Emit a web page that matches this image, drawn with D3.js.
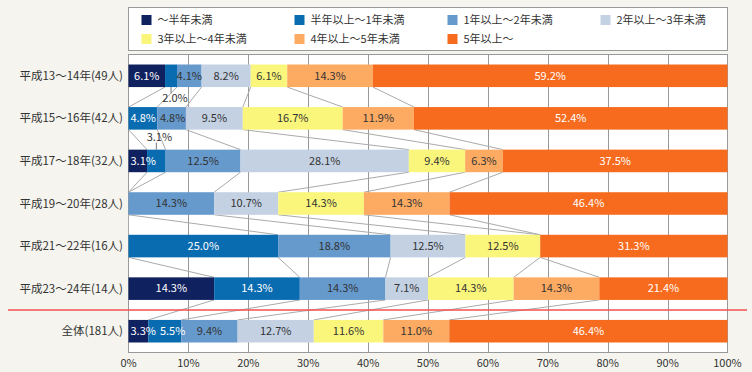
<!DOCTYPE html>
<html>
<head>
<meta charset="utf-8">
<script src="https://cdn.jsdelivr.net/npm/d3@7"></script>
<style>
  body { margin:0; background:#f5f4ee; }
  svg { display:block; font-family:"Noto Sans CJK JP", "Noto Sans", sans-serif; }
</style>
</head>
<body>
<div id="chart"></div>
<script>
// 勤続年数の分布（帯グラフ）
const rows = ['平成13～14年(49人)','平成15～16年(42人)','平成17～18年(32人)','平成19～20年(28人)','平成21～22年(16人)','平成23～24年(14人)','全体(181人)'];
const keys = ['～半年未満','半年以上～1年未満','1年以上～2年未満','2年以上～3年未満','3年以上～4年未満','4年以上～5年未満','5年以上～'];
const colors = ['#10215f','#0a6cb0','#6699cc','#c4d1e3','#faf67b','#fdab63','#f76b1e'];
const textColors = ['#fff','#fff','#333','#333','#333','#333','#fff'];
const values = [
  [6.1, 2.0, 4.1, 8.2, 6.1, 14.3, 59.2],
  [0, 4.8, 4.8, 9.5, 16.7, 11.9, 52.4],
  [3.1, 3.1, 12.5, 28.1, 9.4, 6.3, 37.5],
  [0, 0, 14.3, 10.7, 14.3, 14.3, 46.4],
  [0, 25.0, 18.8, 12.5, 12.5, 0, 31.3],
  [14.3, 14.3, 14.3, 7.1, 14.3, 14.3, 21.4],
  [3.3, 5.5, 9.4, 12.7, 11.6, 11.0, 46.4]
];
// labels drawn outside the bar (row, key index, side)
const outsideLabels = [{row:0, k:1, side:'below'}, {row:2, k:1, side:'above'}];
const ticks = [0,0.1,0.2,0.3,0.4,0.5,0.6,0.7,0.8,0.9,1];

const W = 752, H = 372;
const svg = d3.select('#chart').append('svg').attr('width', W).attr('height', H);

const data = rows.map((r,i)=>{ const o = {row:r}; keys.forEach((k,j)=>o[k]=values[i][j]); return o; });
const series = d3.stack().keys(keys).offset(d3.stackOffsetExpand)(data);

const x = d3.scaleLinear().domain([0,1]).range([128.5, 727.5]);
const y = d3.scaleBand().domain(rows).range([54.5, 352.5]).paddingInner(0.47).paddingOuter(0.235);
const bw = y.bandwidth();

// legend
const leg = svg.append('g');
leg.append('rect').attr('x',128.5).attr('y',7.5).attr('width',599).attr('height',43)
  .attr('fill','#fff').attr('stroke','#999');
keys.forEach((k,i)=>{
  const col = i<4 ? i : i-4, row = i<4 ? 0 : 1;
  const g = leg.append('g').attr('transform',`translate(${141.5+col*153},${20+row*19})`);
  g.append('rect').attr('x',0).attr('y',-5).attr('width',10).attr('height',10).attr('fill',colors[i]);
  g.append('text').attr('x',16).attr('y',0).attr('dy','0.35em').attr('font-size','11px').attr('fill','#333').text(k);
});

// plot area
svg.append('rect').attr('x',x(0)).attr('y',54.5).attr('width',x(1)-x(0)).attr('height',298)
  .attr('fill','#fff').attr('stroke','#999');
svg.append('g').selectAll('line').data(ticks.slice(1,-1)).join('line')
  .attr('x1',d=>Math.round(x(d))+0.5).attr('x2',d=>Math.round(x(d))+0.5)
  .attr('y1',54.5).attr('y2',352.5).attr('stroke','#999');

// connectors between rows
const conn = svg.append('g').attr('stroke','#aaa').attr('fill','none');
for (let i=0;i<rows.length-1;i++){
  for (let j=0;j<keys.length-1;j++){
    const a = series[j][i][1], b = series[j][i+1][1];
    conn.append('line').attr('x1',x(a)).attr('y1',y(rows[i])+bw).attr('x2',x(b)).attr('y2',y(rows[i+1]));
  }
}

// bars
const layers = svg.append('g').selectAll('g').data(series).join('g').attr('fill',(d,i)=>colors[i]);
layers.selectAll('rect').data(d=>d).join('rect')
  .attr('x',d=>x(d[0])).attr('width',d=>x(d[1])-x(d[0]))
  .attr('y',d=>y(d.data.row)).attr('height',bw);

// value labels, left to right per row so small ones don't collide
rows.forEach((r,i)=>{
  let prevRight = x(0);
  const top = y(r), bot = top+bw, cy = top+bw/2;
  keys.forEach((k,j)=>{
    const v = values[i][j];
    if (!v) return;
    const d = series[j][i];
    let cx = (x(d[0])+x(d[1]))/2;
    const out = outsideLabels.find(o=>o.row===i && o.k===j);
    if (out){
      if (out.side==='below'){
        svg.append('line').attr('x1',cx).attr('x2',cx).attr('y1',bot).attr('y2',bot+6).attr('stroke','#777');
        svg.append('text').attr('x',cx+4).attr('y',bot+11).attr('dy','0.35em').attr('text-anchor','middle')
          .attr('font-size','11px').attr('fill','#333').text(v.toFixed(1)+'%');
      } else {
        svg.append('line').attr('x1',cx).attr('x2',cx).attr('y1',top-7).attr('y2',top).attr('stroke','#777');
        svg.append('text').attr('x',cx+3).attr('y',top-12).attr('dy','0.35em').attr('text-anchor','middle')
          .attr('font-size','11px').attr('fill','#333').text(v.toFixed(1)+'%');
      }
      return;
    }
    const t = svg.append('text').attr('y',cy).attr('dy','0.35em').attr('text-anchor','middle')
      .attr('font-size','11px').attr('fill',textColors[j]).text(v.toFixed(1)+'%');
    const tw = t.node().getComputedTextLength();
    cx = Math.max(cx, prevRight + tw/2 + 2);
    t.attr('x', cx);
    prevRight = cx + tw/2 + 2;
  });
});

// red separator
const sepY = (y(rows[5])+bw + y(rows[6]))/2;
svg.append('line').attr('x1',8).attr('x2',747).attr('y1',sepY).attr('y2',sepY)
  .attr('stroke','#f05050').attr('stroke-width',1.5);

// row labels
svg.append('g').selectAll('text').data(rows).join('text')
  .attr('x',123).attr('y',d=>y(d)+bw/2).attr('dy','0.35em').attr('text-anchor','end')
  .attr('font-size','11.5px').attr('fill','#333').text(d=>d);

// x axis labels
svg.append('g').selectAll('text').data(ticks).join('text')
  .attr('x',d=>x(d)).attr('y',363).attr('dy','0.35em').attr('text-anchor','middle')
  .attr('font-size','11px').attr('fill','#333').text(d=>Math.round(d*100)+'%');
</script>
</body>
</html>
